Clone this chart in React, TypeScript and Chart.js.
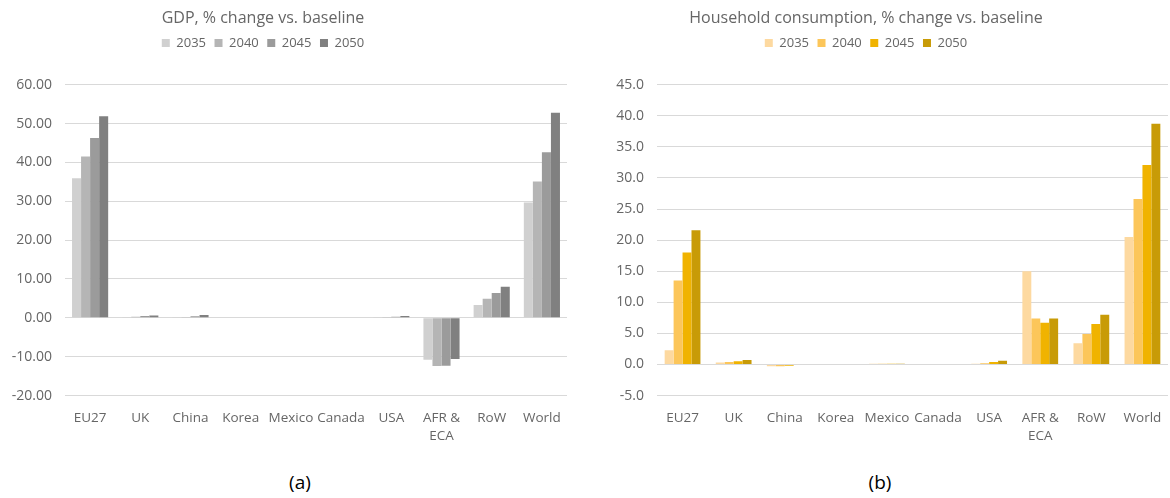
import React, { useEffect, useRef } from "react";
import { Chart, registerables } from "chart.js";

Chart.register(...registerables);

// ---- data ----
const categories: (string | string[])[] = [
  "EU27", "UK", "China", "Korea", "Mexico", "Canada", "USA", ["AFR &", "ECA"], "RoW", "World",
];
const years = ["2035", "2040", "2045", "2050"];

const gdp2035 = [35.9, 0.2, 0.1, 0.0, 0.0, 0.0, 0.1, -10.8, 3.3, 29.7];
const gdp2040 = [41.5, 0.3, 0.2, 0.0, 0.0, 0.0, 0.2, -12.4, 4.9, 35.1];
const gdp2045 = [46.3, 0.5, 0.4, 0.0, 0.0, 0.0, 0.3, -12.3, 6.4, 42.6];
const gdp2050 = [51.9, 0.6, 0.7, 0.0, 0.0, 0.0, 0.5, -10.6, 8.0, 52.8];

const hh2035 = [2.3, 0.3, -0.3, 0.0, 0.1, 0.0, 0.1, 15.0, 3.4, 20.5];
const hh2040 = [13.5, 0.4, -0.3, 0.0, 0.1, 0.0, 0.2, 7.4, 4.9, 26.6];
const hh2045 = [18.0, 0.5, -0.2, 0.0, 0.1, 0.0, 0.4, 6.7, 6.5, 32.1];
const hh2050 = [21.6, 0.7, -0.1, 0.0, 0.1, 0.0, 0.6, 7.4, 8.0, 38.7];

const gdpTitle = "GDP, % change vs. baseline";
const hhTitle = "Household consumption, % change vs. baseline";
const gdpAxis = { min: -20, max: 60, step: 10, decimals: 2 };
const hhAxis = { min: -5, max: 45, step: 5, decimals: 1 };

const gdpColors = ["#d0d0d0", "#b5b5b5", "#9b9b9b", "#808080"];
const hhColors = ["#fdd9a0", "#fcc65a", "#f0b300", "#c89b07"];

const FONT = "'Open Sans', 'DejaVu Sans', sans-serif";
const TEXT = "#666666";
const TITLE_SIZE = 16;

function blockPlugin(centerX: number, titleY: number, legendY: number) {
  return {
    id: "placeBlocks",
    afterLayout(chart: any) {
      const t = chart.titleBlock;
      if (t) {
        const lh = TITLE_SIZE * 1.2;
        t.left = centerX - 280;
        t.right = centerX + 280;
        t.width = 560;
        t.top = titleY - lh / 2;
        t.bottom = t.top + lh;
      }
      const l = chart.legend;
      if (l) {
        const pad = l.options.labels.padding;
        l.left = centerX - 280;
        l.right = centerX + 280;
        l.width = 560;
        const h = l.height;
        l.top = legendY - pad - 13 / 2;
        l.bottom = l.top + h;
      }
    },
  };
}

function makeConfig(
  series: number[][],
  colors: string[],
  title: string,
  axis: { min: number; max: number; step: number; decimals: number },
  axisWidth: number,
  padRight: number,
  catPct: number,
  plugin: any
): any {
  return {
    type: "bar",
    data: {
      labels: categories,
      datasets: series.map((d, i) => ({
        label: years[i],
        data: d,
        backgroundColor: colors[i],
        borderWidth: 0,
        categoryPercentage: catPct,
        barPercentage: 1.0,
      })),
    },
    options: {
      responsive: false,
      animation: false,
      layout: { padding: { top: 34, bottom: 3, left: 0, right: padRight } },
      plugins: {
        title: {
          display: true,
          text: title,
          color: TEXT,
          font: { family: FONT, size: TITLE_SIZE, weight: "normal" },
          padding: 0,
        },
        legend: {
          display: true,
          position: "top",
          labels: {
            boxWidth: 8,
            boxHeight: 8,
            padding: 8.5,
            color: TEXT,
            font: { family: FONT, size: 13 },
          },
        },
        tooltip: { enabled: false },
      },
      scales: {
        x: {
          grid: {
            display: true,
            drawOnChartArea: false,
            drawTicks: true,
            tickLength: 13,
            tickColor: "rgba(0,0,0,0)",
          },
          border: { display: false },
          ticks: {
            color: TEXT,
            font: { family: FONT, size: 13.5, lineHeight: 1.35 },
            padding: 0,
            maxRotation: 0,
            autoSkip: false,
          },
        },
        y: {
          min: axis.min,
          max: axis.max,
          afterFit: (s: any) => {
            s.width = axisWidth;
          },
          grid: { color: "#d9d9d9", lineWidth: 1, drawTicks: false },
          border: { display: false },
          ticks: {
            stepSize: axis.step,
            color: TEXT,
            font: { family: FONT, size: 14 },
            padding: 13,
            callback: (v: any) => Number(v).toFixed(axis.decimals),
          },
        },
      },
    },
    plugins: [plugin],
  };
}

function BarPanel(props: {
  left: number;
  series: number[][];
  colors: string[];
  title: string;
  axis: { min: number; max: number; step: number; decimals: number };
  axisWidth: number;
  padRight: number;
  catPct: number;
  centerX: number;
}) {
  const ref = useRef<HTMLCanvasElement | null>(null);
  useEffect(() => {
    if (!ref.current) return;
    const chart = new Chart(
      ref.current,
      makeConfig(
        props.series,
        props.colors,
        props.title,
        props.axis,
        props.axisWidth,
        props.padRight,
        props.catPct,
        blockPlugin(props.centerX, 18, 43)
      )
    );
    return () => chart.destroy();
  }, []);
  return (
    <canvas
      ref={ref}
      width={585}
      height={448}
      style={{ position: "absolute", left: props.left, top: 0, width: 585, height: 448 }}
    />
  );
}

export default function App() {
  return (
    <div
      style={{
        position: "absolute",
        left: 0,
        top: 0,
        width: 1170,
        height: 498,
        background: "#ffffff",
        overflow: "hidden",
        fontFamily: FONT,
      }}
    >
      <BarPanel
        left={0}
        series={[gdp2035, gdp2040, gdp2045, gdp2050]}
        colors={gdpColors}
        title={gdpTitle}
        axis={gdpAxis}
        axisWidth={65}
        padRight={18}
        catPct={0.72}
        centerX={263}
      />
      <BarPanel
        left={585}
        series={[hh2035, hh2040, hh2045, hh2050]}
        colors={hhColors}
        title={hhTitle}
        axis={hhAxis}
        axisWidth={72}
        padRight={2}
        catPct={0.7}
        centerX={281}
      />
      <div
        style={{
          position: "absolute",
          left: 250,
          width: 100,
          top: 470,
          lineHeight: "24px",
          fontSize: 19,
          textAlign: "center",
          color: "#000",
        }}
      >
        (a)
      </div>
      <div
        style={{
          position: "absolute",
          left: 830,
          width: 100,
          top: 470,
          lineHeight: "24px",
          fontSize: 19,
          textAlign: "center",
          color: "#000",
        }}
      >
        (b)
      </div>
    </div>
  );
}
